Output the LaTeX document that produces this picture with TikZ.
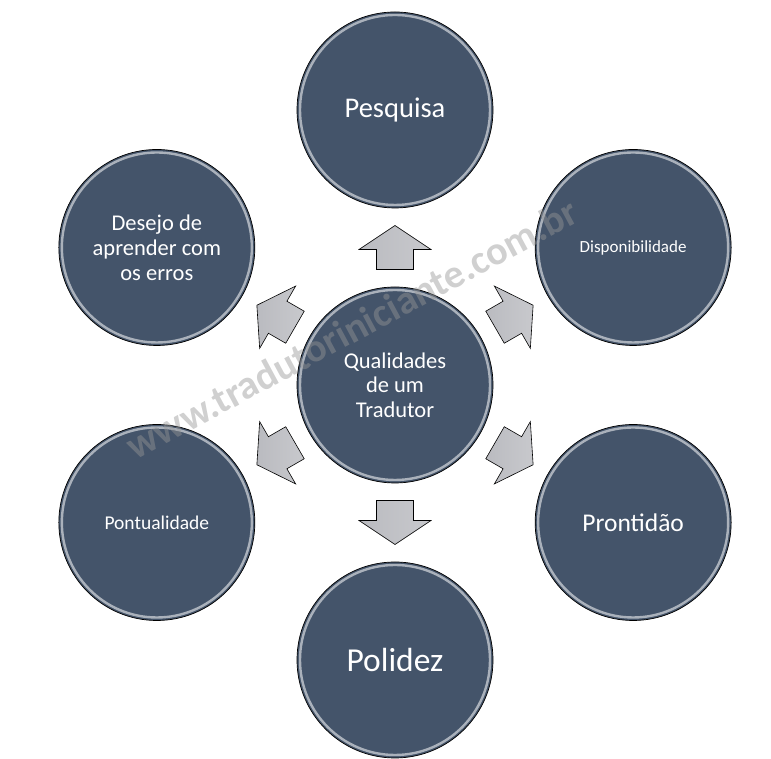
\documentclass[tikz,border=0pt]{standalone}
\usepackage{fontspec}
\setmainfont{Carlito}
\usetikzlibrary{calc}
\definecolor{slate}{RGB}{68,84,106}
\definecolor{arrgray}{RGB}{186,187,192}
\definecolor{wmgray}{RGB}{150,150,150}
\tikzset{
  bub/.style={circle,draw=black,line width=0.7pt,fill=slate,minimum size=196pt,inner sep=0pt,
    text=white,align=center,
    path picture={\draw[white,opacity=0.55,line width=2.4pt]
      (path picture bounding box.center) circle (95pt);}},
  blk/.style={draw=black,line width=0.6pt,line join=miter,left color=arrgray,right color=arrgray!80!white},
  wm/.style={font=\fontsize{40}{40}\selectfont\bfseries,text=wmgray,text opacity=0.45,anchor=base},
}
\begin{document}
\begin{tikzpicture}[x=1pt,y=1pt]
\useasboundingbox (0,0) rectangle (771,759);
\node[bub,font=\fontsize{22.5}{24.5}\selectfont] (q) at (395,374) {Qualidades\\de um\\Tradutor};
\foreach \a/\n/\t/\s in {90/pq/Pesquisa/28.5, 30/dp/Disponibilidade/17, -30/pr/Prontidão/25.5,
  -90/pd/Polidez/33.5, -150/pt/Pontualidade/19.5, 150/dj/{Desejo de\\aprender com\\os erros}/22.5}{%
 \node[bub,font=\fontsize{\s}{25}\selectfont] (\n) at ($(q)+(\a:275)$) {\t};
 \coordinate (m\n) at ($(q)!0.5!(\n)$);
 \draw[blk,shift={(m\n)},rotate=\a] (-22,-18.5) -- (-2,-18.5) -- (-2,-36) -- (22,0)
   -- (-2,36) -- (-2,18.5) -- (-22,18.5) -- cycle;}
\node[wm,rotate=28.3] (mark) at (358,418) {www.tradutoriniciante.com.br};
\end{tikzpicture}
\end{document}
